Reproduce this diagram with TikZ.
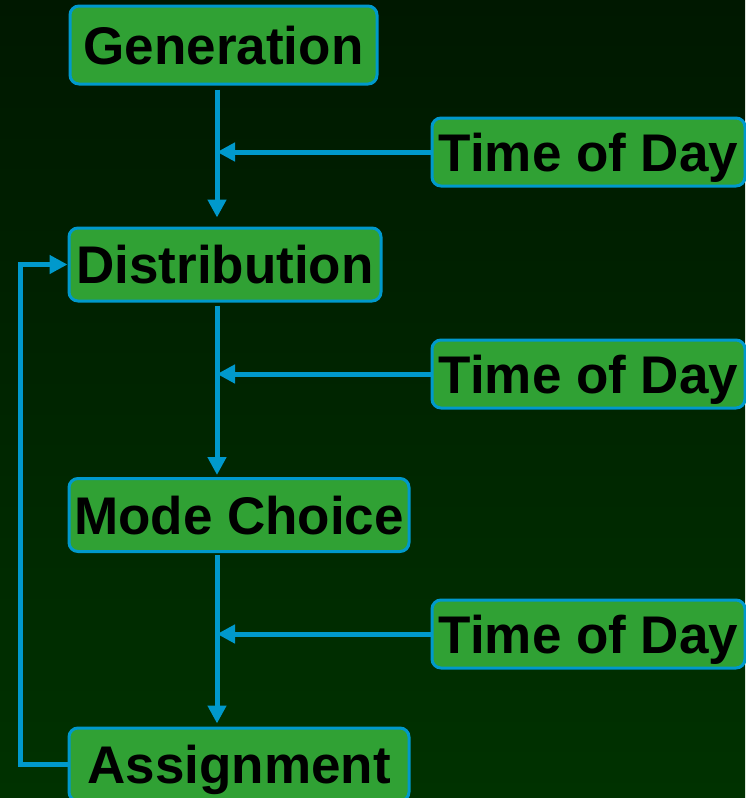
\documentclass[tikz,border=0pt]{standalone}
\usepackage{fontspec}
\setmainfont{Liberation Sans}
\usetikzlibrary{positioning, arrows.meta}
\definecolor{bgtop}{RGB}{0,24,0}
\definecolor{bgbottom}{RGB}{0,50,0}
\definecolor{boxgreen}{RGB}{48,161,52}
\definecolor{linkblue}{RGB}{0,153,204}

\begin{document}
\begin{tikzpicture}[x=1pt,y=1pt,on grid,
    stage/.style={draw=linkblue,line width=3pt,fill=boxgreen,rounded corners=9pt,
      font=\fontsize{53}{60}\selectfont\bfseries,text height=38pt,text depth=0pt,
      inner sep=0pt,minimum height=73pt},
    timebox/.style={stage,minimum width=313pt,minimum height=68pt},
    flow/.style={draw=linkblue,line width=5pt,-{Triangle[width=18pt,length=18pt]}}]
  % background
  \shade[top color=bgtop,bottom color=bgbottom] (0,0) rectangle (745,-798);
  \useasboundingbox (0,0) rectangle (745,-798);
  % main chain
  \node[stage,minimum width=307pt,minimum height=78pt] (gen) at (223.5,-45) {Generation};
  \node[stage,minimum width=312pt] (dist) [below=219.5pt of gen, xshift=1.5pt] {Distribution};
  \node[stage,minimum width=340pt] (mode) [below=250.5pt of dist, xshift=14pt] {Mode Choice};
  \node[stage,minimum width=340pt] (assign) [below=249.5pt of mode] {Assignment};
  % time of day inputs
  \node[timebox] (tod1) at (588.5,-152) {Time of Day};
  \node[timebox] (tod2) [below=222pt of tod1] {Time of Day};
  \node[timebox] (tod3) [below=260pt of tod2] {Time of Day};
  \coordinate (spine) at (217,0);
  \draw[flow,shorten <=4pt,shorten >=9pt] (gen.south -| spine) -- (dist.north -| spine);
  \draw[flow,shorten <=3pt,shorten >=2pt] (dist.south -| spine) -- (mode.north -| spine);
  \draw[flow,shorten <=2pt,shorten >=3pt] (mode.south -| spine) -- (assign.north -| spine);
  \draw[flow] (tod1.west) -- (tod1.west -| spine);
  \draw[flow] (tod2.west) -- (tod2.west -| spine);
  \draw[flow] (tod3.west) -- (tod3.west -| spine);
  % feedback loop
  \draw[flow] (assign.west) -- ++(-47pt,0) |- (dist.west);
\end{tikzpicture}
\end{document}
